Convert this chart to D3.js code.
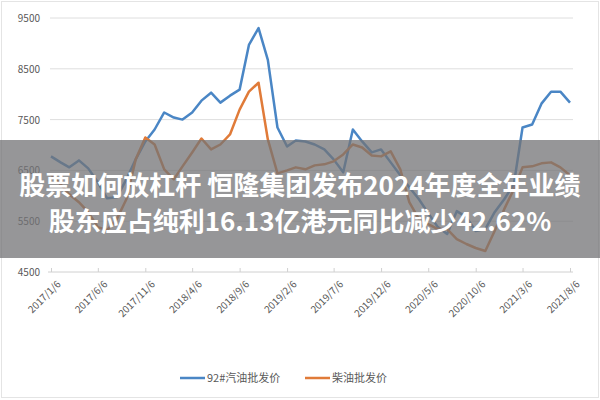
<!DOCTYPE html>
<html><head><meta charset="utf-8">
<script src="https://cdn.jsdelivr.net/npm/d3@7"></script>
<style>body{margin:0;background:#fff}</style></head>
<body><svg id="c" width="600" height="400"></svg>
<script>
const startDate = "2017-01-06";
const monthCount = 56;
const gasoline = [6776,6658,6560,6697,6540,6266,5950,5970,6325,6717,7070,7305,7640,7540,7500,7640,7873,8030,7834,7971,8090,8970,9300,8677,7344,6970,7090,7070,7010,6913,6717,6462,7305,7070,6854,6913,6658,6403,6168,5933,5658,5384,5247,5698,5580,5306,5345,5678,5933,6227,7344,7403,7814,8050,8050,7834];
const diesel = [6423,6227,6031,5874,5678,5384,5325,5541,5933,6717,7148,7010,6521,6325,6580,6854,7128,6913,7010,7207,7697,8050,8226,7109,6442,6501,6560,6521,6599,6619,6678,6815,7010,6952,6795,6776,6874,6521,5874,5541,5443,5345,5345,5149,5051,4972,4914,5306,5737,6129,6560,6580,6639,6658,6560,6403];
const yTicks = [4500,5500,6500,7500,8500,9500];
const xTickLabels = ["2017/1/6","2017/6/6","2017/11/6","2018/4/6","2018/9/6","2019/2/6","2019/7/6","2019/12/6","2020/5/6","2020/10/6","2021/3/6","2021/8/6"];
const seriesNames = ["92#汽油批发价","柴油批发价"];
const colors = ["#4a86c5","#e07b39"];
const bannerLines = ["股票如何放杠杆 恒隆集团发布2024年度全年业绩","股东应占纯利16.13亿港元同比减少42.62%"];

const parse = d3.timeParse("%Y-%m-%d");
const p2 = d3.timeParse("%Y/%m/%d");
const d0 = parse(startDate);
const dates = d3.range(monthCount).map(i => d3.timeMonth.offset(d0, i));
const svg = d3.select("#c");
const font = "'Noto Sans CJK SC', 'Noto Sans', sans-serif";
svg.append("rect").attr("x",1.5).attr("y",1.5).attr("width",597).attr("height",396).attr("fill","#fff").attr("stroke","#e4e4e4");

const x = d3.scaleTime().domain([d0, p2("2021/8/6")]).range([51,570]);
const y = d3.scaleLinear().domain([4500,9500]).range([272,18]);

yTicks.forEach(t => {
  if (t > 4500) svg.append("line").attr("x1",50).attr("x2",573).attr("y1",y(t)).attr("y2",y(t)).attr("stroke","#dedede").attr("stroke-width",1);
  svg.append("text").attr("x",40).attr("y",y(t)+4).attr("text-anchor","end").attr("font-size",10).attr("fill","#595959").attr("font-family",font).text(t);
});
const xAxis = svg.append("g").attr("transform","translate(0,272)")
  .call(d3.axisBottom(x).tickValues(xTickLabels.map(p2)).tickSize(4).tickFormat(d3.timeFormat("%Y/%-m/%-d")));
xAxis.select(".domain").attr("stroke","#d0d0d0").attr("d","M48,0H573");
xAxis.selectAll(".tick line").attr("stroke","#d0d0d0").attr("y1",-4).attr("y2",0);
xAxis.selectAll(".tick text").attr("fill","#595959").attr("font-size",10).attr("font-family",font)
  .attr("text-anchor","end").attr("transform","rotate(-45)").attr("dx","-0.2em").attr("dy","0.9em");

[gasoline, diesel].forEach((vals,i) => {
  svg.append("path").datum(vals).attr("fill","none").attr("stroke",colors[i]).attr("stroke-width",2.5)
    .attr("stroke-linejoin","round")
    .attr("d", d3.line().x((d,j)=>x(dates[j])).y(d=>y(d)));
});

const lg = [[180,"92#汽油批发价"],[305,"柴油批发价"]];
seriesNames.forEach((n,i) => {
  const lx = lg[i][0];
  svg.append("line").attr("x1",lx).attr("x2",lx+25).attr("y1",378).attr("y2",378).attr("stroke",colors[i]).attr("stroke-width",2.5);
  svg.append("text").attr("x",lx+27).attr("y",382).attr("font-size",11).attr("fill","#595959").attr("font-family",font).text(n);
});

svg.append("rect").attr("x",0).attr("y",140).attr("width",600).attr("height",118).attr("fill","rgba(115,115,118,0.75)");
bannerLines.forEach((t,i) => {
  svg.append("text").attr("x",300).attr("y",195+i*36).attr("text-anchor","middle").attr("font-size",26).attr("font-weight","bold")
    .attr("fill","#fff").attr("font-family",font).text(t);
});
</script></body></html>
